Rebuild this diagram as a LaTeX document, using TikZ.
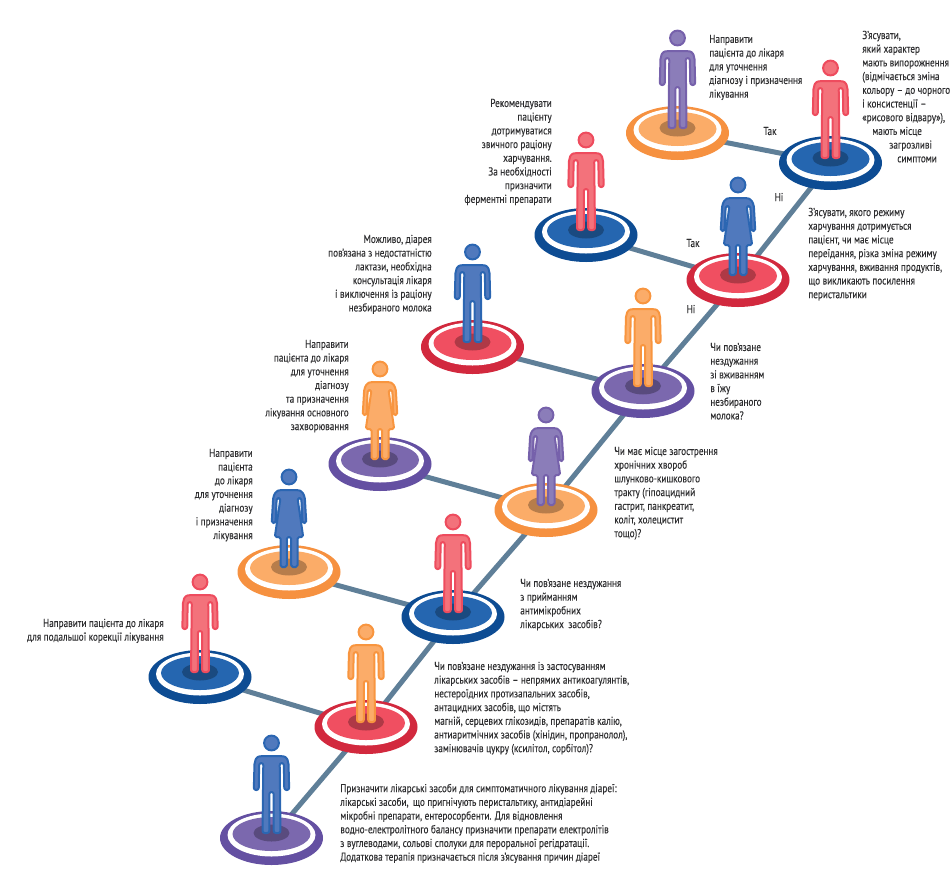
\documentclass[tikz,border=0pt]{standalone}
\usepackage{fontspec}
\setmainfont[FakeStretch=0.8,FakeBold=0.12]{PT Sans}
\usepackage{tikz}
\usetikzlibrary{shapes.geometric, backgrounds}

\definecolor{violetout}{HTML}{6450A2}
\definecolor{violetin}{HTML}{7B68AE}
\definecolor{violetfig}{HTML}{8B7DB9}
\definecolor{violetline}{HTML}{7661AB}
\definecolor{redout}{HTML}{D2293E}
\definecolor{redin}{HTML}{F04F61}
\definecolor{redfig}{HTML}{F3727B}
\definecolor{redline}{HTML}{EE4C5E}
\definecolor{blueout}{HTML}{0D4C93}
\definecolor{bluein}{HTML}{2566B0}
\definecolor{bluefig}{HTML}{5079BD}
\definecolor{blueline}{HTML}{2B66B2}
\definecolor{orangeout}{HTML}{F69140}
\definecolor{orangein}{HTML}{FBAC68}
\definecolor{orangefig}{HTML}{FBAC69}
\definecolor{orangeline}{HTML}{F8953F}
\definecolor{linkcol}{HTML}{5F7F98}
\definecolor{textcol}{HTML}{2E2E30}

\tikzset{
  man/.pic={
    \filldraw[fill=#1fig,draw=#1line,line width=2pt] (0,-90) circle [radius=7.4];
    \filldraw[fill=#1fig,draw=#1line,line width=2pt,line join=round,rounded corners=2.2pt]
      (0,-77) -- (10,-77) -- (14.5,-76.2) -- (17,-71) -- (17.7,-43) -- (12.8,-43)
      -- (12.3,-70) -- (8.2,-70) -- (9,0) -- (2.2,0) -- (2.2,-41) -- (-2.2,-41)
      -- (-2.2,0) -- (-9,0) -- (-8.2,-70) -- (-12.3,-70) -- (-12.8,-43) -- (-17.7,-43)
      -- (-17,-71) -- (-14.5,-76.2) -- (-10,-77) -- cycle;
  },
  woman/.pic={
    \filldraw[fill=#1fig,draw=#1line,line width=2pt] (0,-90) circle [radius=7.4];
    \filldraw[fill=#1fig,draw=#1line,line width=2pt,line join=round,rounded corners=1.7pt]
      (0,-77) -- (9,-77) -- (13,-75.6) -- (15.8,-70) -- (17.3,-44) -- (13.5,-44)
      -- (12.3,-69) -- (8.5,-69) -- (14.2,-30) -- (8.5,-30) -- (8.5,0) -- (2.2,0)
      -- (2.2,-30) -- (-2.2,-30) -- (-2.2,0) -- (-8.5,0) -- (-8.5,-30) -- (-14.2,-30)
      -- (-8.5,-69) -- (-12.3,-69) -- (-13.5,-44) -- (-17.3,-44) -- (-15.8,-70)
      -- (-13,-75.6) -- (-9,-77) -- cycle;
  }
}

\begin{document}
\begin{tikzpicture}[x=1pt,y=-1pt,semithick]
  \tikzstyle{platform}=[ellipse,inner sep=0pt,minimum width=103pt,minimum height=54pt]
  \tikzstyle{link}=[draw=linkcol,line width=5pt]
  \tikzstyle{note}=[inner sep=0pt,text=textcol,font=\fontsize{11.5}{13.7}\selectfont]
  \tikzstyle{rnote}=[note,align=right,anchor=north east,yshift=-1.5pt]
  \tikzstyle{lnote}=[note,align=left,anchor=north west,yshift=-1.5pt]
  \useasboundingbox (0,0) rectangle (950,876);

  \foreach \name/\x/\y/\col/\who/\fig in {
      a/271.5/838/violet/man/blue, b/366/727/red/man/orange,
      c/453/617/blue/man/red, d/546/510/orange/woman/violet,
      e/643/391/violet/man/orange, f/738/280/red/woman/blue,
      g/830.5/163/blue/man/red, h/200/677/blue/man/red,
      i/289/572/orange/woman/blue, j/380/464/violet/woman/orange,
      k/472.5/347/red/man/blue, l/586/235/blue/man/red,
      m/677.5/133/orange/man/violet}{
    \node[platform,fill=\col out] (\name) at (\x,\y) {};
    \fill[white] (\x,\y-3) ellipse [x radius=44, y radius=21.5];
    \fill[\col in] (\x,\y-4) ellipse [x radius=39, y radius=17];
    \fill[black,opacity=.27] (\x,\y-5) ellipse [x radius=18, y radius=8.5];
    \pic at (\x,\y-5) {\who=\fig};
  }

  % the lines run behind the platforms
  \begin{scope}[on background layer]
    \path[link] (a.center) edge (b.center)
                (b.center) edge (c.center)
                (c.center) edge (d.center)
                (d.center) edge (e.center)
                (e.center) edge (f.center)
                (f.center) edge (g.center)
                (h.center) edge (b.center)
                (i.center) edge (c.center)
                (j.center) edge (d.center)
                (k.center) edge (e.center)
                (l.center) edge (f.center)
                (m.center) edge (g.center);
  \end{scope}

  \node[note] (t1) at (770,131) {Так};
  \node[note] (t2) at (779,197) {Ні};
  \node[note] (t3) at (693,243) {Так};
  \node[note] (t4) at (691,309) {Ні};

  \node[lnote] (n1) at (709,33) {Направити\\пацієнта до лікаря\\для уточнення\\діагнозу і призначення\\лікування};
  \node[lnote] (n2) at (862,29) {З’ясувати,\\який характер\\мають випорожнення\\(відмічається зміна\\кольору – до чорного\\і консистенції –\\«рисового відвару»),\\\hspace*{10pt}мають місце\\\hspace*{27pt}загрозливі\\\hspace*{35pt}симптоми};
  \node[lnote] (n3) at (808,206) {З’ясувати, якого режиму\\харчування дотримується\\пацієнт, чи має місце\\переїдання, різка зміна режиму\\харчування, вживання продуктів,\\що викликають посилення\\перистальтики};
  \node[rnote] (n4) at (552,97) {Рекомендувати\\пацієнту\\дотримуватися\\звичного раціону\\харчування.\\За необхідності\\призначити\\ферментні препарати};
  \node[rnote] (n5) at (432,233) {Можливо, діарея\\пов’язана з недостатністю\\лактази, необхідна\\консультація лікаря\\і виключення із раціону\\незбираного молока};
  \node[rnote] (n6) at (349,338) {Направити\\пацієнта до лікаря\\для уточнення\\діагнозу\\та призначення\\лікування основного\\захворювання};
  \node[rnote] (n7) at (253,447) {Направити\\пацієнта\\до лікаря\\для уточнення\\діагнозу\\і призначення\\лікування};
  \node[rnote] (n8) at (164,617) {Направити пацієнта до лікаря\\для подальшої корекції лікування};
  \node[lnote] (n9) at (710,341) {Чи пов’язане\\нездужання\\зі вживанням\\в їжу\\незбираного\\молока?};
  \node[lnote] (n10) at (614,445) {Чи має місце загострення\\хронічних хвороб\\шлунково-кишкового\\тракту (гіпоацидний\\гастрит, панкреатит,\\коліт, холецистит\\тощо)?};
  \node[lnote] (n11) at (520,577) {Чи пов’язане нездужання\\з прийманням\\антимікробних\\лікарських\hspace{2pt} засобів?};
  \node[lnote] (n12) at (434,660) {Чи пов’язане нездужання із застосуванням\\лікарських засобів – непрямих антикоагулянтів,\\нестероїдних протизапальних засобів,\\антацидних засобів, що містять\\магній, серцевих глікозидів, препаратів калію,\\антиаритмічних засобів (хінідин, пропранолол),\\замінювачів цукру (ксилітол, сорбітол)?};
  \node[lnote] (n13) at (340,782) {Призначити лікарські засоби для симптоматичного лікування діареї:\\лікарські засоби,\hspace{2pt} що пригнічують перистальтику, антидіарейні\\мікробні препарати, ентеросорбенти. Для відновлення\\водно-електролітного балансу призначити препарати електролітів\\з вуглеводами, сольові сполуки для пероральної регідратації.\\Додаткова терапія призначається після з’ясування причин діареї};
\end{tikzpicture}
\end{document}
